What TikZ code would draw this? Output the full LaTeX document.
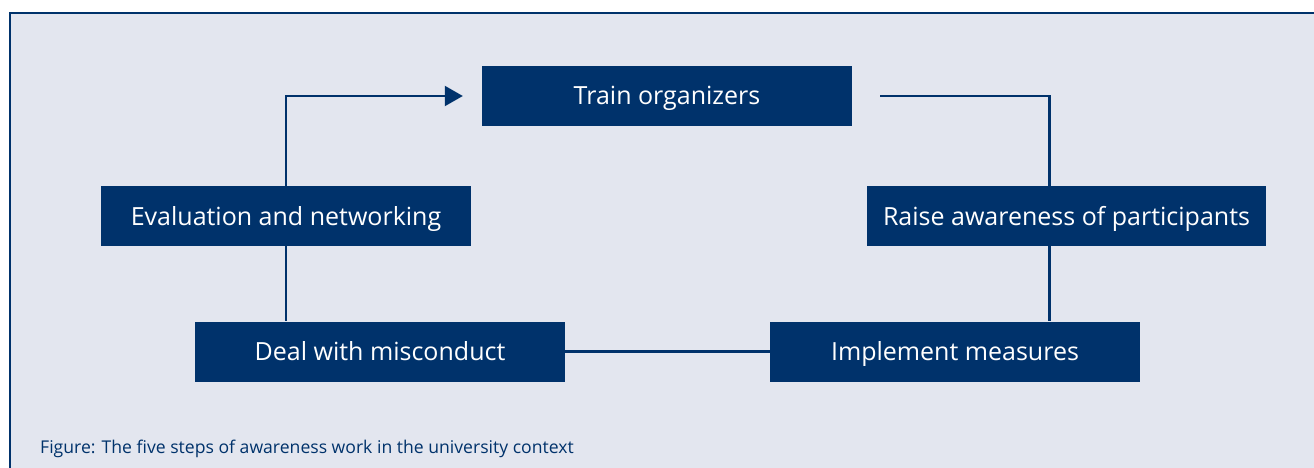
\documentclass[tikz,border=0pt]{standalone}
\usepackage{fontspec}
\setsansfont{Open Sans}
\usetikzlibrary{arrows.meta,positioning}

\definecolor{navy}{RGB}{0,50,107}
\definecolor{panel}{RGB}{227,230,239}

\begin{document}
\begin{tikzpicture}[x=1pt,y=-1pt,
		step node/.style={rectangle,fill=navy,text=white,font=\sffamily\fontsize{25}{30}\selectfont,
			minimum width=370pt,minimum height=60pt,inner xsep=16pt,text height=18pt,text depth=0pt},
		link/.style={draw=navy,line width=2.2pt},
		caption/.style={font=\sffamily\fontsize{17.6}{21}\selectfont,text=navy,anchor=base west,inner sep=0pt}]
		
		% background panel
		\useasboundingbox (0,0) rectangle (1314,468);
		\fill[white] (0,0) rectangle (1314,468);
		\fill[panel] (10,13) rectangle (1314,468);
		\draw[navy,line width=1.5pt] (10,468) -- (10,13) -- (1314,13);
		
		\node[step node] (train) at (667,96) {Train organizers};
		\node[step node] (eval) at (286,216) {Evaluation and networking};
		\node[step node] (raise) at (1066.5,216) {Raise awareness of participants};
		\node[step node] (deal) at (380,351.5) {Deal with misconduct};
		\node[step node] (impl) at (955,351.5) {Implement measures};
		
		\node[caption] (cap) at (40,453) {Figure: The five steps of awareness work in the university context};
		
		\draw[link,-{Triangle[length=18pt,width=20pt]},shorten >=19pt] (eval.north) |- (train.west);
		\draw[link,shorten <=28pt] (train.east) -| ([xshift=-17pt]raise.north);
		\draw[link] ([xshift=-17pt]raise.south) -- ([xshift=-17pt]raise.south |- impl.north);
		\draw[link] (deal.east) -- (impl.west);
		\draw[link] (eval.south) -- (eval.south |- deal.north);
\end{tikzpicture}
\end{document}
